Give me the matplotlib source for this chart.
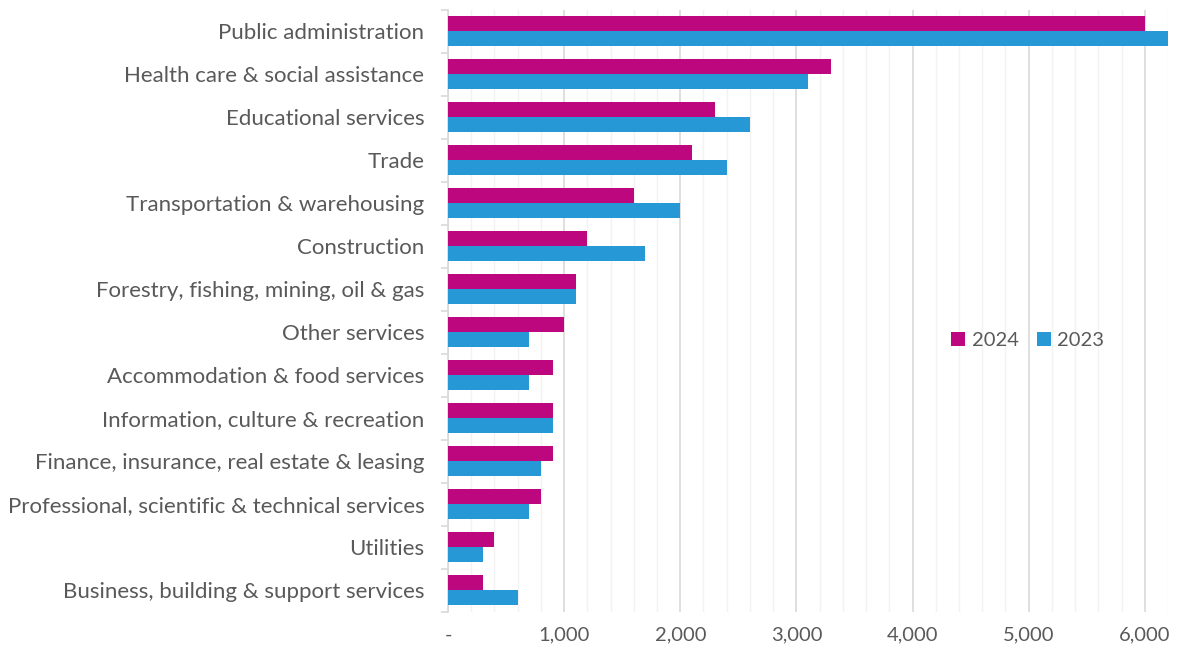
import matplotlib
matplotlib.use("Agg")
import matplotlib.pyplot as plt
import numpy as np
from matplotlib.ticker import FixedLocator, MultipleLocator, FuncFormatter

categories = [
    "Public administration",
    "Health care & social assistance",
    "Educational services",
    "Trade",
    "Transportation & warehousing",
    "Construction",
    "Forestry, fishing, mining, oil & gas",
    "Other services",
    "Accommodation & food services",
    "Information, culture & recreation",
    "Finance, insurance, real estate & leasing",
    "Professional, scientific & technical services",
    "Utilities",
    "Business, building & support services",
]
values_2024 = [6000, 3300, 2300, 2100, 1600, 1200, 1100, 1000, 900, 900, 900, 800, 400, 300]
values_2023 = [6200, 3100, 2600, 2400, 2000, 1700, 1100, 700, 700, 900, 800, 700, 300, 600]
series_labels = ["2024", "2023"]
colors = ["#BC077F", "#2698D6"]

plt.rcParams['font.family'] = ['Lato', 'DejaVu Sans']
text_color = "#595959"

fig = plt.figure(figsize=(11.8, 6.59), dpi=100)
ax = fig.add_axes([448/1180, 1 - 611.5/659, (1168-448)/1180, (611.5-9.5)/659])

n = len(categories)
y = np.arange(n)
h = 0.34
ax.barh(y - h/2, values_2024, height=h, color=colors[0], label=series_labels[0], zorder=3)
ax.barh(y + h/2, values_2023, height=h, color=colors[1], label=series_labels[1], zorder=3)

ax.set_ylim(n - 0.5, -0.5)
ax.set_xlim(0, 6200)

ax.xaxis.set_major_locator(MultipleLocator(1000))
ax.xaxis.set_minor_locator(MultipleLocator(200))
ax.xaxis.set_major_formatter(FuncFormatter(lambda v, p: "-" if v == 0 else f"{int(v):,}"))
ax.grid(axis='x', which='major', color="#D9D9D9", linewidth=1.2, zorder=0)
ax.grid(axis='x', which='minor', color="#F2F2F2", linewidth=1.0, zorder=0)
ax.tick_params(axis='x', which='both', length=0, labelsize=14.5, colors=text_color, pad=11)

ax.yaxis.set_major_locator(FixedLocator(np.arange(-0.5, n, 1.0)))
ax.yaxis.set_major_formatter(FuncFormatter(lambda v, p: ""))
ax.set_yticks(y, minor=True)
ax.set_yticklabels(categories, minor=True)
ax.tick_params(axis='y', which='major', length=5, color="#D9D9D9", width=1.2)
ax.tick_params(axis='y', which='minor', length=0, labelsize=16, colors=text_color, pad=17)

for s in ['top', 'right', 'bottom']:
    ax.spines[s].set_visible(False)
ax.spines['left'].set_color("#D9D9D9")
ax.spines['left'].set_linewidth(1.2)

leg = ax.legend(loc='center', bbox_to_anchor=(0.805, 0.45), ncol=2, frameon=False,
                fontsize=14.5, handlelength=0.7, handleheight=0.7, handletextpad=0.3,
                columnspacing=0.9)
for t in leg.get_texts():
    t.set_color(text_color)

fig.savefig("out.png", dpi=100)
